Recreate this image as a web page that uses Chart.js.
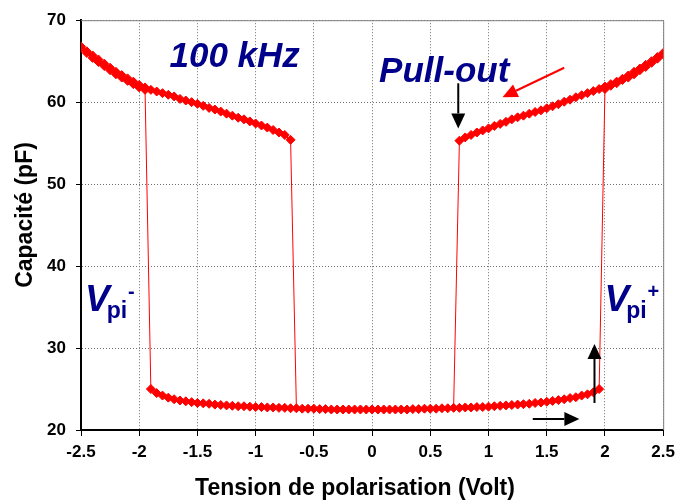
<!DOCTYPE html>
<html>
<head>
<meta charset="utf-8">
<title>Capacité - tension de polarisation</title>
<script src="https://cdn.jsdelivr.net/npm/chart.js@4.4.0/dist/chart.umd.min.js"></script>
<style>
    body { margin: 0; background: #fff; }
    #wrap { width: 681px; height: 501px; }
</style>
</head>
<body>
<div id="wrap"><canvas id="myChart" width="681" height="501"></canvas></div>
<script>
// Branche haute gauche (membrane collée, tension négative)
const upperLeftV = [-2.50, -2.45, -2.40, -2.35, -2.30, -2.25, -2.20, -2.15, -2.10, -2.05,
    -2.00, -1.95, -1.90, -1.85, -1.80, -1.75, -1.70, -1.65, -1.60, -1.55,
    -1.50, -1.45, -1.40, -1.35, -1.30, -1.25, -1.20, -1.15, -1.10, -1.05,
    -1.00, -0.95, -0.90, -0.85, -0.80, -0.75, -0.70];
const upperLeftC = [66.8, 66.2, 65.7, 65.2, 64.7, 64.2, 63.7, 63.3, 62.9, 62.5,
    62.1, 61.8, 61.5, 61.3, 61.1, 60.9, 60.7, 60.4, 60.2, 60.0,
    59.8, 59.55, 59.3, 59.1, 58.85, 58.6, 58.35, 58.1, 57.9, 57.65,
    57.4, 57.15, 56.9, 56.6, 56.3, 56.0, 55.4];

// Premier passage vers -2.5 V après le pull-in négatif
const leftOutwardV = [-1.95, -2.00, -2.05, -2.10, -2.15, -2.20, -2.25, -2.30, -2.35, -2.40, -2.45, -2.50];
const leftOutwardC = [61.5, 61.8, 62.2, 62.6, 63.0, 63.4, 63.9, 64.4, 64.9, 65.4, 66.0, 66.6];

// Branche basse (membrane libre)
const lowerV = [-1.90, -1.85, -1.80, -1.75, -1.70, -1.65, -1.60, -1.55, -1.50, -1.45,
    -1.40, -1.35, -1.30, -1.25, -1.20, -1.15, -1.10, -1.05, -1.00, -0.95,
    -0.90, -0.85, -0.80, -0.75, -0.70, -0.65, -0.60, -0.55, -0.50, -0.45,
    -0.40, -0.35, -0.30, -0.25, -0.20, -0.15, -0.10, -0.05, 0.00, 0.05,
    0.10, 0.15, 0.20, 0.25, 0.30, 0.35, 0.40, 0.45, 0.50, 0.55,
    0.60, 0.65, 0.70, 0.75, 0.80, 0.85, 0.90, 0.95, 1.00, 1.05,
    1.10, 1.15, 1.20, 1.25, 1.30, 1.35, 1.40, 1.45, 1.50, 1.55,
    1.60, 1.65, 1.70, 1.75, 1.80, 1.85, 1.90, 1.95];
const lowerC = [25.0, 24.5, 24.2, 23.95, 23.75, 23.6, 23.5, 23.4, 23.3, 23.25,
    23.2, 23.1, 23.05, 23.0, 22.95, 22.9, 22.9, 22.85, 22.8, 22.8,
    22.75, 22.75, 22.7, 22.7, 22.65, 22.65, 22.6, 22.6, 22.6, 22.55,
    22.55, 22.5, 22.5, 22.5, 22.5, 22.5, 22.5, 22.5, 22.5, 22.5,
    22.5, 22.5, 22.5, 22.5, 22.5, 22.55, 22.55, 22.6, 22.6, 22.6,
    22.65, 22.65, 22.7, 22.7, 22.75, 22.75, 22.8, 22.8, 22.85, 22.9,
    22.95, 23.0, 23.05, 23.1, 23.15, 23.2, 23.3, 23.35, 23.45, 23.55,
    23.65, 23.75, 23.9, 24.0, 24.2, 24.35, 24.6, 25.0];

// Branche haute droite (membrane collée, tension positive)
const upperRightV = [0.75, 0.80, 0.85, 0.90, 0.95, 1.00, 1.05, 1.10, 1.15, 1.20,
    1.25, 1.30, 1.35, 1.40, 1.45, 1.50, 1.55, 1.60, 1.65, 1.70,
    1.75, 1.80, 1.85, 1.90, 1.95, 2.00, 2.05, 2.10, 2.15, 2.20,
    2.25, 2.30, 2.35, 2.40, 2.45, 2.50];
const upperRightC = [55.3, 55.7, 56.0, 56.3, 56.55, 56.8, 57.1, 57.35, 57.6, 57.9,
    58.15, 58.35, 58.6, 58.8, 59.0, 59.25, 59.5, 59.75, 60.05, 60.3,
    60.6, 60.85, 61.1, 61.35, 61.6, 61.9, 62.2, 62.5, 62.85, 63.25,
    63.7, 64.1, 64.55, 65.0, 65.5, 66.0];

// Premier passage vers +2.5 V après le pull-in positif
const rightOutwardV = [2.00, 2.05, 2.10, 2.15, 2.20, 2.25, 2.30, 2.35, 2.40, 2.45, 2.50];
const rightOutwardC = [61.6, 62.0, 62.3, 62.7, 63.0, 63.4, 63.9, 64.3, 64.8, 65.3, 65.8];

// Sauts pull-in / pull-out entre les branches
const jumpV = [[-1.90, -1.95], [-0.70, -0.65], [0.75, 0.70], [1.95, 2.00]];
const jumpC = [[25.0, 61.5], [55.4, 22.65], [55.3, 22.7], [25.0, 61.6]];

const xTickLabels = ['-2.5', '-2', '-1.5', '-1', '-0.5', '0', '0.5', '1', '1.5', '2', '2.5'];
const yTickLabels = ['20', '30', '40', '50', '60', '70'];

const FONT = "'Liberation Sans', Arial, sans-serif";
const NAVY = '#00008b';
const RED = '#ff0000';

function toPoints(vs, cs) {
    return vs.map((v, i) => ({ x: v, y: cs[i] }));
}

function branch(vs, cs) {
    return {
        data: toPoints(vs, cs),
        showLine: true,
        borderColor: RED,
        borderWidth: 1.5,
        pointStyle: 'rectRot',
        pointRadius: 4.5,
        pointBackgroundColor: RED,
        pointBorderColor: RED,
        pointBorderWidth: 1
    };
}

const jumpSets = jumpV.map((vs, i) => ({
    data: toPoints(vs, jumpC[i]),
    showLine: true,
    borderColor: RED,
    borderWidth: 1,
    pointRadius: 0
}));

function drawArrow(ctx, x1, y1, x2, y2, color, head, half) {
    const ang = Math.atan2(y2 - y1, x2 - x1);
    const bx = x2 - head * Math.cos(ang);
    const by = y2 - head * Math.sin(ang);
    ctx.strokeStyle = color;
    ctx.fillStyle = color;
    ctx.lineWidth = 2;
    ctx.beginPath();
    ctx.moveTo(x1, y1);
    ctx.lineTo(bx, by);
    ctx.stroke();
    ctx.beginPath();
    ctx.moveTo(x2, y2);
    ctx.lineTo(bx + half * Math.sin(ang), by - half * Math.cos(ang));
    ctx.lineTo(bx - half * Math.sin(ang), by + half * Math.cos(ang));
    ctx.closePath();
    ctx.fill();
}

// V_pi with subscript and signed superscript
function drawVpi(ctx, x, y, sign) {
    ctx.fillStyle = NAVY;
    ctx.textBaseline = 'alphabetic';
    ctx.textAlign = 'left';
    ctx.font = `italic bold 37px ${FONT}`;
    ctx.fillText('V', x, y);
    const px = x + ctx.measureText('V').width - 3;
    ctx.font = `bold 23px ${FONT}`;
    ctx.fillText('pi', px, y + 7);
    const sx = px + ctx.measureText('pi').width + 1;
    ctx.font = `bold 20px ${FONT}`;
    ctx.fillText(sign, sx, y - 13);
}

// arrows are placed in axis units (V, pF)
const arrows = [
    { from: [0.74, 62.3], to: [0.74, 56.8], color: '#000', width: 2 },
    { from: [1.65, 64.2], to: [1.12, 60.6], color: RED, width: 1.5 },
    { from: [1.91, 23.3], to: [1.91, 30.5], color: '#000', width: 2 },
    { from: [1.38, 21.33], to: [1.78, 21.33], color: '#000', width: 2 }
];

const overlayPlugin = {
    id: 'overlay',
    beforeDatasetsDraw(chart) {
        const { ctx, chartArea: a } = chart;
        ctx.save();
        ctx.strokeStyle = '#808080';
        ctx.lineWidth = 1;
        ctx.beginPath();
        ctx.moveTo(a.left, a.top + 0.5);
        ctx.lineTo(a.right + 0.5, a.top + 0.5);
        ctx.lineTo(a.right + 0.5, a.bottom);
        ctx.stroke();
        ctx.restore();
    },
    afterDatasetsDraw(chart) {
        const { ctx, scales: { x, y } } = chart;
        ctx.save();

        arrows.forEach(a => {
            ctx.save();
            drawArrow(ctx,
                x.getPixelForValue(a.from[0]), y.getPixelForValue(a.from[1]),
                x.getPixelForValue(a.to[0]), y.getPixelForValue(a.to[1]),
                a.color, 15, 7);
            ctx.restore();
        });

        ctx.fillStyle = NAVY;
        ctx.textAlign = 'left';
        ctx.textBaseline = 'alphabetic';
        ctx.font = `italic bold 35px ${FONT}`;
        ctx.fillText('100 kHz', x.getPixelForValue(-1.74), y.getPixelForValue(64.3));
        ctx.fillText('Pull-out', x.getPixelForValue(0.06), y.getPixelForValue(62.5));

        drawVpi(ctx, x.getPixelForValue(-2.466), y.getPixelForValue(34.5), '-');
        drawVpi(ctx, x.getPixelForValue(1.996), y.getPixelForValue(34.5), '+');

        // axis titles
        ctx.fillStyle = '#000';
        ctx.font = `bold 23px ${FONT}`;
        ctx.textAlign = 'center';
        ctx.fillText('Tension de polarisation (Volt)', 355, 495);
        ctx.translate(32, 215);
        ctx.rotate(-Math.PI / 2);
        ctx.fillText('Capacité (pF)', 0, 0);

        ctx.restore();
    }
};

const gridStyle = {
    color: '#707070',
    lineWidth: 1,
    tickColor: '#000',
    drawTicks: true
};

new Chart(document.getElementById('myChart'), {
    type: 'scatter',
    data: {
        datasets: [
            ...jumpSets,
            branch(leftOutwardV, leftOutwardC),
            branch(rightOutwardV, rightOutwardC),
            branch(upperLeftV, upperLeftC),
            branch(lowerV, lowerC),
            branch(upperRightV, upperRightC)
        ]
    },
    options: {
        responsive: false,
        animation: false,
        layout: {
            autoPadding: false,
            padding: { left: 0, right: 15, top: 16, bottom: 0 }
        },
        plugins: {
            legend: { display: false },
            tooltip: { enabled: false }
        },
        scales: {
            x: {
                type: 'linear',
                min: -2.5,
                max: 2.5,
                afterFit: (s) => { s.height = 71; },
                ticks: {
                    stepSize: 0.5,
                    padding: 6,
                    color: '#000',
                    font: { family: FONT, size: 17, weight: 'bold' },
                    maxRotation: 0,
                    callback: (v, i) => xTickLabels[i]
                },
                grid: { ...gridStyle, tickLength: 6 },
                border: { display: true, color: '#000', width: 2, dash: [1, 2] }
            },
            y: {
                type: 'linear',
                min: 20,
                max: 70,
                afterFit: (s) => { s.width = 81; },
                ticks: {
                    stepSize: 10,
                    padding: 10,
                    color: '#000',
                    font: { family: FONT, size: 17, weight: 'bold' },
                    callback: (v, i) => yTickLabels[i]
                },
                grid: { ...gridStyle, tickLength: 5 },
                border: { display: true, color: '#000', width: 2, dash: [1, 2] }
            }
        }
    },
    plugins: [overlayPlugin]
});
</script>
</body>
</html>
